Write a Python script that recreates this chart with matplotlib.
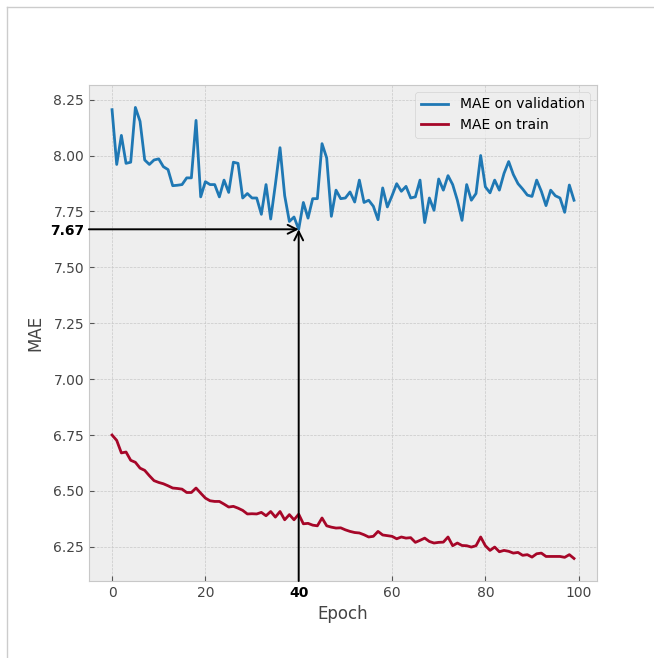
import matplotlib
matplotlib.use("Agg")
import matplotlib.pyplot as plt
from matplotlib.lines import Line2D

plt.style.use("bmh")

epochs = list(range(100))

mae_val = [
    8.205, 7.96, 8.09, 7.965, 7.97, 8.215, 8.153, 7.98, 7.96, 7.98,
    7.985, 7.95, 7.937, 7.865, 7.867, 7.87, 7.90, 7.90, 8.157, 7.815,
    7.883, 7.87, 7.87, 7.815, 7.89, 7.835, 7.97, 7.965, 7.81, 7.83,
    7.81, 7.81, 7.737, 7.87, 7.716, 7.87, 8.035, 7.82, 7.705, 7.725,
    7.67, 7.79, 7.72, 7.807, 7.807, 8.053, 7.989, 7.728, 7.845, 7.807,
    7.81, 7.837, 7.792, 7.89, 7.79, 7.80, 7.773, 7.713, 7.855, 7.77,
    7.82, 7.874, 7.84, 7.862, 7.81, 7.815, 7.89, 7.70, 7.81, 7.755,
    7.895, 7.845, 7.91, 7.87, 7.80, 7.71, 7.87, 7.80, 7.83, 8.0,
    7.86, 7.833, 7.89, 7.845, 7.92, 7.973, 7.915, 7.874, 7.85, 7.823,
    7.817, 7.89, 7.84, 7.776, 7.845, 7.82, 7.81, 7.746, 7.868, 7.80,
]

mae_train = [
    6.75, 6.726, 6.67, 6.674, 6.637, 6.628, 6.602, 6.592, 6.568, 6.546,
    6.538, 6.532, 6.523, 6.513, 6.511, 6.508, 6.493, 6.493, 6.513, 6.49,
    6.468, 6.456, 6.453, 6.453, 6.441, 6.428, 6.431, 6.423, 6.413, 6.397,
    6.398, 6.397, 6.404, 6.389, 6.408, 6.383, 6.408, 6.371, 6.394, 6.371,
    6.396, 6.353, 6.355, 6.347, 6.344, 6.379, 6.344, 6.338, 6.334, 6.335,
    6.326, 6.319, 6.314, 6.312, 6.304, 6.294, 6.297, 6.319, 6.303, 6.30,
    6.297, 6.286, 6.294, 6.289, 6.291, 6.27, 6.279, 6.289, 6.274, 6.267,
    6.27, 6.271, 6.294, 6.255, 6.267, 6.256, 6.255, 6.249, 6.255, 6.294,
    6.255, 6.234, 6.249, 6.228, 6.234, 6.23, 6.222, 6.225, 6.212, 6.215,
    6.204, 6.219, 6.222, 6.207, 6.207, 6.207, 6.207, 6.203, 6.215, 6.198,
]

best_epoch = 40
best_mae = 7.67

x_ticks = [0, 20, 60, 80, 100]
y_ticks = [6.25, 6.50, 6.75, 7.00, 7.25, 7.50, 7.75, 8.00, 8.25]

plt.rcParams["grid.color"] = "#c8c8c8"
plt.rcParams["axes.edgecolor"] = "#c8c8c8"

fig = plt.figure(figsize=(6.54, 6.58), dpi=100)
fig.patch.set_facecolor("white")
ax = fig.add_axes([0.136, 0.117, 0.777, 0.754])

ax.plot(epochs, mae_val, color="#1f78b4", lw=2, label="MAE on validation")
ax.plot(epochs, mae_train, color="#A60628", lw=2, label="MAE on train")

ax.set_xticks(x_ticks)
ax.set_yticks(y_ticks)
ax.yaxis.set_major_formatter(matplotlib.ticker.FormatStrFormatter("%.2f"))

# highlighted best epoch / best score as bold minor ticks
ax.set_xticks([best_epoch], labels=[str(best_epoch)], minor=True)
ax.set_yticks([best_mae], labels=[f"{best_mae:.2f}"], minor=True)
for lab in ax.get_xticklabels(minor=True) + ax.get_yticklabels(minor=True):
    lab.set_fontweight("bold")
    lab.set_color("black")
ax.tick_params(which="minor", length=0)
ax.tick_params(which="major", colors="#555555", labelcolor="#444444")

arrow = dict(arrowstyle="->", color="black", lw=1.4, mutation_scale=16,
             shrinkA=0, shrinkB=0)
ax.annotate("", xy=(best_epoch, best_mae), xytext=(0, best_mae),
            xycoords="data", textcoords=("axes fraction", "data"),
            arrowprops=arrow)
ax.annotate("", xy=(best_epoch, best_mae), xytext=(best_epoch, 0),
            xycoords="data", textcoords=("data", "axes fraction"),
            arrowprops=arrow)

ax.set_xlabel("Epoch", color="#444444")
ax.set_ylabel("MAE", color="#444444")
ax.legend(loc="upper right")

# thin frame on the top and left edges of the canvas
fig.add_artist(Line2D([0.011, 0.011], [0, 0.989], transform=fig.transFigure,
                      color="#cccccc", lw=1))
fig.add_artist(Line2D([0.011, 1], [0.989, 0.989], transform=fig.transFigure,
                      color="#cccccc", lw=1))

fig.savefig("out.png", dpi=100, facecolor="white")
